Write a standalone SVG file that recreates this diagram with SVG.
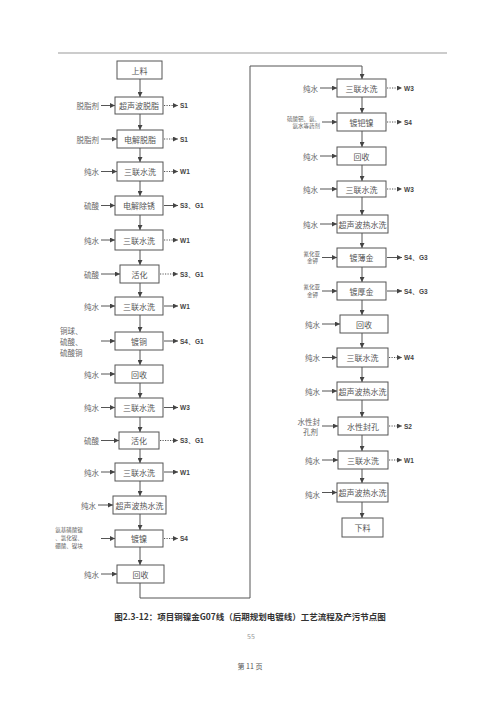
<svg xmlns="http://www.w3.org/2000/svg" width="500" height="707" viewBox="0 0 500 707">
<defs>
<marker id="ah" viewBox="0 0 6 6" refX="6" refY="3" markerWidth="5" markerHeight="5" orient="auto"><path d="M0,0 L6,3 L0,6 z" fill="#444"/></marker>
</defs>
<style>
.box{fill:#fff;stroke:#555;stroke-width:1}
.t{font-family:"Noto Sans CJK SC","Noto Sans CJK JP",sans-serif;font-size:8px;fill:#555;text-anchor:middle;dominant-baseline:central}
.in{font-family:"Noto Sans CJK SC",sans-serif;font-size:7.5px;fill:#666;text-anchor:end;dominant-baseline:central}
.sm{font-size:5.5px}
.out{font-family:"Liberation Sans",Arial,sans-serif;font-size:6.5px;font-weight:bold;fill:#444;dominant-baseline:central}
.ln{fill:none;stroke:#555;stroke-width:1}
.ar{fill:none;stroke:#555;stroke-width:1;marker-end:url(#ah)}
.dt{fill:none;stroke:#555;stroke-width:1;stroke-dasharray:1.2 1.3;marker-end:url(#ah)}
.cap{font-family:"Noto Sans CJK SC",sans-serif;font-size:8.5px;font-weight:bold;fill:#333;text-anchor:middle}
.pg{font-family:"Noto Sans CJK SC",sans-serif;font-size:7px;fill:#555;text-anchor:middle}
</style>
<rect width="500" height="707" fill="#fff"/>
<line x1="58" y1="53" x2="447" y2="53" stroke="#999" stroke-width="1"/>

<g id="connectors">
<!-- left column vertical -->
<path class="ar" d="M140,79 V97"/>
<path class="ar" d="M140,114 V130"/>
<path class="ar" d="M140,148 V162"/>
<path class="ar" d="M140,181 V196"/>
<path class="ar" d="M140,215 V230"/>
<path class="ar" d="M140,250 V265"/>
<path class="ar" d="M140,283 V297"/>
<path class="ar" d="M140,315 V332"/>
<path class="ar" d="M140,350 V365"/>
<path class="ar" d="M140,383 V398"/>
<path class="ar" d="M140,417 V432"/>
<path class="ar" d="M140,449 V463"/>
<path class="ar" d="M140,481 V496"/>
<path class="ar" d="M140,514 V530"/>
<path class="ar" d="M140,547 V565"/>
<path class="ar" d="M140,583 V598 H250 V66 H362 V79"/>
<!-- right column vertical -->
<path class="ar" d="M362,97 V113"/>
<path class="ar" d="M362,131 V147"/>
<path class="ar" d="M362,165 V181"/>
<path class="ar" d="M362,197 V215"/>
<path class="ar" d="M362,233 V248"/>
<path class="ar" d="M362,267 V282"/>
<path class="ar" d="M362,300 V315"/>
<path class="ar" d="M362,333 V348"/>
<path class="ar" d="M362,367 V382"/>
<path class="ar" d="M362,400 V417"/>
<path class="ar" d="M362,435 V451"/>
<path class="ar" d="M362,469 V483"/>
<path class="ar" d="M362,502 V518"/>
<!-- left inputs -->
<path class="ar" d="M101,105.5 H115"/>
<path class="ar" d="M101,139 H117"/>
<path class="ar" d="M101,171.5 H117"/>
<path class="ar" d="M101,205.5 H115"/>
<path class="ar" d="M101,240 H115"/>
<path class="ar" d="M101,274 H120"/>
<path class="ar" d="M101,306 H115"/>
<path class="ar" d="M101,341 H115"/>
<path class="ar" d="M101,374 H115"/>
<path class="ar" d="M101,407.5 H115"/>
<path class="ar" d="M101,440.5 H119"/>
<path class="ar" d="M101,472 H115"/>
<path class="ar" d="M98,505 H113"/>
<path class="ar" d="M101,538.5 H115"/>
<path class="ar" d="M101,574 H117"/>
<!-- left outputs -->
<path class="dt" d="M164,105.5 H178"/>
<path class="dt" d="M164,139 H178"/>
<path class="dt" d="M164,171.5 H178"/>
<path class="ar" d="M164,205.5 H178"/>
<path class="dt" d="M164,240 H178"/>
<path class="dt" d="M160,274 H178"/>
<path class="ar" d="M164,306 H178"/>
<path class="ar" d="M164,341 H178"/>
<path class="ar" d="M164,407.5 H178"/>
<path class="dt" d="M160,440.5 H178"/>
<path class="ar" d="M164,472 H178"/>
<path class="dt" d="M164,538.5 H178"/>
<!-- right inputs -->
<path class="ar" d="M320,88 H337"/>
<path class="ar" d="M322,122 H337"/>
<path class="ar" d="M320,156 H337"/>
<path class="ar" d="M320,189 H337"/>
<path class="ar" d="M320,224 H337"/>
<path class="ar" d="M322,257.5 H337"/>
<path class="ar" d="M322,291 H337"/>
<path class="ar" d="M322,324 H340"/>
<path class="ar" d="M322,357.5 H337"/>
<path class="ar" d="M322,391 H337"/>
<path class="ar" d="M322,426 H338"/>
<path class="ar" d="M322,460 H338"/>
<path class="ar" d="M322,492.5 H337"/>
<!-- right outputs -->
<path class="dt" d="M387,88 H402"/>
<path class="dt" d="M387,122 H402"/>
<path class="dt" d="M387,189 H402"/>
<path class="ar" d="M387,257.5 H402"/>
<path class="ar" d="M387,291 H402"/>
<path class="dt" d="M389,357.5 H402"/>
<path class="dt" d="M389,426 H402"/>
<path class="dt" d="M389,460 H402"/>
</g>

<!-- left column nodes -->
<g id="L1"><rect class="box" x="117" y="61" width="45" height="18"/><text class="t" x="139.5" y="70">上料</text></g>
<g id="L2"><rect class="box" x="115" y="97" width="48" height="17"/><text class="t" x="139" y="105.5">超声波脱脂</text><text class="in" x="99" y="105.5">脱脂剂</text><text class="out" x="180" y="105.5">S1</text></g>
<g id="L3"><rect class="box" x="117" y="130" width="46" height="18"/><text class="t" x="140" y="139">电解脱脂</text><text class="in" x="99" y="139">脱脂剂</text><text class="out" x="180" y="139">S1</text></g>
<g id="L4"><rect class="box" x="117" y="162" width="46" height="19"/><text class="t" x="140" y="171.5">三联水洗</text><text class="in" x="99" y="171.5">纯水</text><text class="out" x="180" y="171.5">W1</text></g>
<g id="L5"><rect class="box" x="115" y="196" width="48" height="19"/><text class="t" x="139" y="205.5">电解除锈</text><text class="in" x="99" y="205.5">硫酸</text><text class="out" x="180" y="205.5">S3、G1</text></g>
<g id="L6"><rect class="box" x="115" y="230" width="48" height="20"/><text class="t" x="139" y="240">三联水洗</text><text class="in" x="99" y="240">纯水</text><text class="out" x="180" y="240">W1</text></g>
<g id="L7"><rect class="box" x="120" y="265" width="39" height="18"/><text class="t" x="139.5" y="274">活化</text><text class="in" x="99" y="274">硫酸</text><text class="out" x="180" y="274">S3、G1</text></g>
<g id="L8"><rect class="box" x="115" y="297" width="48" height="18"/><text class="t" x="139" y="306">三联水洗</text><text class="in" x="99" y="306">纯水</text><text class="out" x="180" y="306">W1</text></g>
<g id="L9"><rect class="box" x="115" y="332" width="48" height="18"/><text class="t" x="139" y="341">镀铜</text><text class="in" x="99" y="330" style="text-anchor:start" dx="-39">铜球、</text><text class="in" x="60" y="341" style="text-anchor:start">硫酸、</text><text class="in" x="60" y="352" style="text-anchor:start">硫酸铜</text><text class="out" x="180" y="341">S4、G1</text></g>
<g id="L10"><rect class="box" x="115" y="365" width="48" height="18"/><text class="t" x="139" y="374">回收</text><text class="in" x="99" y="374">纯水</text></g>
<g id="L11"><rect class="box" x="115" y="398" width="48" height="19"/><text class="t" x="139" y="407.5">三联水洗</text><text class="in" x="99" y="407.5">纯水</text><text class="out" x="180" y="407.5">W3</text></g>
<g id="L12"><rect class="box" x="119" y="432" width="40" height="17"/><text class="t" x="139" y="440.5">活化</text><text class="in" x="99" y="440.5">硫酸</text><text class="out" x="180" y="440.5">S3、G1</text></g>
<g id="L13"><rect class="box" x="115" y="463" width="48" height="18"/><text class="t" x="139" y="472">三联水洗</text><text class="in" x="99" y="472">纯水</text><text class="out" x="180" y="472">W1</text></g>
<g id="L14"><rect class="box" x="113" y="496" width="53" height="18"/><text class="t" x="139.5" y="505">超声波热水洗</text><text class="in" x="96" y="505">纯水</text></g>
<g id="L15"><rect class="box" x="115" y="530" width="48" height="17"/><text class="t" x="139" y="538.5">镀镍</text><text class="in sm" x="69" y="530" style="text-anchor:middle">氨基磺酸镍</text><text class="in sm" x="69" y="538" style="text-anchor:middle">、氯化镍、</text><text class="in sm" x="69" y="546" style="text-anchor:middle">硼酸、镍块</text><text class="out" x="180" y="538.5">S4</text></g>
<g id="L16"><rect class="box" x="117" y="565" width="47" height="18"/><text class="t" x="140.5" y="574">回收</text><text class="in" x="99" y="574">纯水</text></g>

<!-- right column nodes -->
<g id="R1"><rect class="box" x="337" y="79" width="49" height="18"/><text class="t" x="361.5" y="88">三联水洗</text><text class="in" x="318" y="88">纯水</text><text class="out" x="404" y="88">W3</text></g>
<g id="R2"><rect class="box" x="337" y="113" width="49" height="18"/><text class="t" x="361.5" y="122">镀钯镍</text><text class="in sm" x="320" y="118.5">硫酸钯、氨、</text><text class="in sm" x="320" y="125.5">氨水等药剂</text><text class="out" x="404" y="122">S4</text></g>
<g id="R3"><rect class="box" x="337" y="147" width="49" height="18"/><text class="t" x="361.5" y="156">回收</text><text class="in" x="318" y="156">纯水</text></g>
<g id="R4"><rect class="box" x="337" y="181" width="49" height="16"/><text class="t" x="361.5" y="189">三联水洗</text><text class="in" x="318" y="189">纯水</text><text class="out" x="404" y="189">W3</text></g>
<g id="R5"><rect class="box" x="337" y="215" width="51" height="18"/><text class="t" x="362.5" y="224">超声波热水洗</text><text class="in" x="318" y="224">纯水</text></g>
<g id="R6"><rect class="box" x="337" y="248" width="49" height="19"/><text class="t" x="361.5" y="257.5">镀薄金</text><text class="in sm" x="320" y="253.5">氰化亚</text><text class="in sm" x="318" y="261">金钾</text><text class="out" x="404" y="257.5">S4、G3</text></g>
<g id="R7"><rect class="box" x="337" y="282" width="49" height="18"/><text class="t" x="361.5" y="291">镀厚金</text><text class="in sm" x="320" y="287">氰化亚</text><text class="in sm" x="318" y="294.5">金钾</text><text class="out" x="404" y="291">S4、G3</text></g>
<g id="R8"><rect class="box" x="340" y="315" width="48" height="18"/><text class="t" x="364" y="324">回收</text><text class="in" x="320" y="324">纯水</text></g>
<g id="R9"><rect class="box" x="337" y="348" width="51" height="19"/><text class="t" x="362.5" y="357.5">三联水洗</text><text class="in" x="320" y="357.5">纯水</text><text class="out" x="404" y="357.5">W4</text></g>
<g id="R10"><rect class="box" x="337" y="382" width="51" height="18"/><text class="t" x="362.5" y="391">超声波热水洗</text><text class="in" x="320" y="391">纯水</text></g>
<g id="R11"><rect class="box" x="338" y="417" width="50" height="18"/><text class="t" x="363" y="426">水性封孔</text><text class="in" x="320" y="421">水性封</text><text class="in" x="318" y="431">孔剂</text><text class="out" x="404" y="426">S2</text></g>
<g id="R12"><rect class="box" x="338" y="451" width="50" height="18"/><text class="t" x="363" y="460">三联水洗</text><text class="in" x="320" y="460">纯水</text><text class="out" x="404" y="460">W1</text></g>
<g id="R13"><rect class="box" x="337" y="483" width="51" height="19"/><text class="t" x="362.5" y="492.5">超声波热水洗</text><text class="in" x="320" y="494">纯水</text></g>
<g id="R14"><rect class="box" x="342" y="518" width="41" height="19"/><text class="t" x="362.5" y="527.5">下料</text></g>

<text class="cap" x="250" y="620">图2.3-12：项目铜镍金G07线（后期规划电镀线）工艺流程及产污节点图</text>
<text class="pg" x="251" y="639" style="fill:#999">55</text>
<text class="pg" x="250" y="669">第 11 页</text>
</svg>
